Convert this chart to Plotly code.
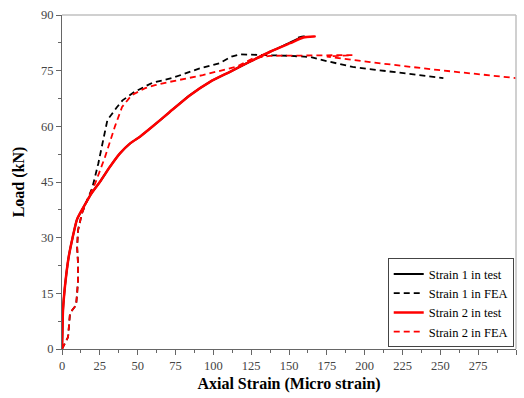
import plotly.graph_objects as go

# Strain 1 in test
s1_test_x = [0, 0.3, 0.6, 1.5, 2.8, 4.5, 7, 10, 15, 19.6, 25, 31.7, 38.3, 45, 51.5, 60, 71, 84.6, 97.8, 111, 124, 137.5, 150, 157, 160, 156]
s1_test_y = [0, 5, 10, 15, 20, 25, 30, 35, 38.8, 42, 45, 49.1, 52.7, 55.4, 57.2, 60, 63.8, 68.4, 72, 74.7, 77.4, 80.1, 82.4, 83.8, 84.3, 83.9]
# Strain 1 in FEA
s1_fea_x = [0, 4, 5.3, 9.3, 10, 10.6, 10.6, 10, 10.6, 13.2, 16.5, 20, 24, 30, 36, 40, 48, 59.5, 72.7, 91, 104, 112, 117.6, 137.5, 150, 164, 170.5, 192, 225, 252]
s1_fea_y = [0, 3.2, 9.7, 11.8, 15, 18.6, 23, 27.5, 32, 36.6, 40, 43.4, 50, 61.7, 65, 67, 69.3, 71.7, 73, 75.6, 77, 78.8, 79.4, 79.2, 79, 78.7, 78, 76, 74.4, 73]
# Strain 2 in test
s2_test_x = [0, 0.3, 0.6, 1.5, 2.8, 4.5, 7, 10, 15, 19.6, 25, 31.7, 38.3, 45, 51.5, 60, 71, 84.6, 97.8, 111, 124, 137.5, 150.7, 159.5, 167, 160, 155]
s2_test_y = [0, 5, 10, 15, 20, 25, 30, 35, 38.8, 42, 45, 49.1, 52.7, 55.4, 57.2, 60, 63.8, 68.4, 72, 74.7, 77.4, 80.1, 82.4, 83.9, 84.2, 84, 83.3]
# Strain 2 in FEA
s2_fea_x = [0, 4, 5.3, 9.3, 10, 10.6, 10.6, 10, 10.6, 13.2, 16.5, 22, 28.4, 35, 39.7, 46, 55, 61.5, 71.4, 93, 115.5, 126, 137.5, 157, 170.5, 192, 175, 203.6, 248, 300]
s2_fea_y = [0, 3.2, 9.7, 11.8, 15, 18.6, 23, 27.5, 32, 36.6, 40, 44.7, 51.7, 60, 65.2, 68.4, 70.3, 71.1, 72, 73.8, 76.1, 78.3, 79, 79.1, 79.2, 79.2, 78.8, 77.3, 75.2, 73]

x_ticks = [0, 25, 50, 75, 100, 125, 150, 175, 200, 225, 250, 275, 300]
y_ticks = [0, 15, 30, 45, 60, 75, 90]

SERIF = "'Liberation Serif', 'Times New Roman', Times, serif"
fig = go.Figure()
fig.add_trace(go.Scatter(x=s1_test_x, y=s1_test_y, mode="lines", name="Strain 1 in test",
                         line=dict(color="black", width=2, shape="spline", smoothing=0.6)))
fig.add_trace(go.Scatter(x=s1_fea_x, y=s1_fea_y, mode="lines", name="Strain 1 in FEA",
                         line=dict(color="black", width=1.8, dash="6px,4px")))
fig.add_trace(go.Scatter(x=s2_test_x, y=s2_test_y, mode="lines", name="Strain 2 in test",
                         line=dict(color="red", width=2.5, shape="spline", smoothing=0.6)))
fig.add_trace(go.Scatter(x=s2_fea_x, y=s2_fea_y, mode="lines", name="Strain 2 in FEA",
                         line=dict(color="red", width=1.8, dash="6px,4px")))

axis_common = dict(showgrid=False, zeroline=False, showline=True, linecolor="#666", linewidth=1,
                   ticks="outside", ticklen=5, tickcolor="#666",
                   tickfont=dict(family=SERIF, size=12.5, color="#444"))
fig.update_xaxes(range=[0, 300], tickvals=x_ticks, **axis_common,
                 minor=dict(ticks="outside", ticklen=3, tickcolor="#666", dtick=12.5, tick0=0),
                 title=dict(text="<b>Axial Strain (Micro strain)</b>", font=dict(family=SERIF, size=16, color="black"), standoff=5))
fig.update_yaxes(range=[0, 90], tickvals=y_ticks, **axis_common,
                 minor=dict(ticks="outside", ticklen=3, tickcolor="#666", dtick=7.5, tick0=0),
                 title=dict(text="<b>Load (kN)</b>", font=dict(family=SERIF, size=16, color="black"), standoff=12))

fig.add_shape(type="line", xref="paper", yref="paper", x0=0, x1=1, y0=1, y1=1, line=dict(color="#c0c0c0", width=1.5))
fig.add_shape(type="line", xref="paper", yref="paper", x0=1, x1=1, y0=0, y1=1, line=dict(color="#c0c0c0", width=1.5))

fig.update_layout(
    width=524, height=398,
    margin=dict(l=62, r=8, t=15, b=49),
    plot_bgcolor="white", paper_bgcolor="white",
    showlegend=True,
    font=dict(family=SERIF),
    legend=dict(x=0.995, y=0.005, xanchor="right", yanchor="bottom",
                bgcolor="white", bordercolor="#444", borderwidth=1,
                font=dict(family=SERIF, size=12.5, color="black"), tracegroupgap=0,
                itemwidth=30),
)
fig.write_html("out.html")
